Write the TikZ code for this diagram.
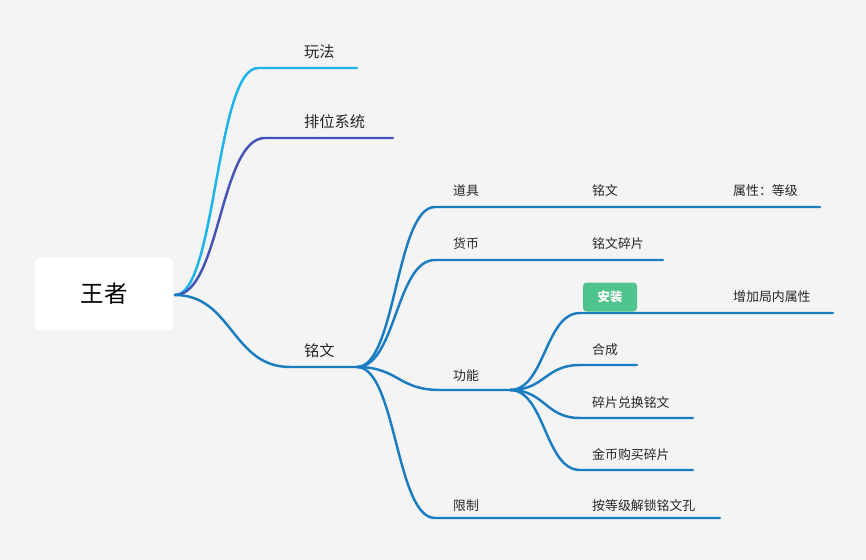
\documentclass[tikz,border=0pt]{standalone}
\usepackage{fontspec}
\setmainfont{Noto Sans CJK SC}
\begin{document}
\begin{tikzpicture}[x=0.03cm,y=-0.03cm,
  br/.style={line width=2.1pt,line cap=round},
  lab/.style={font=\fontsize{11}{12}\selectfont,text=black!85,inner sep=0pt,anchor=west},
  lab1/.style={font=\fontsize{13}{14}\selectfont,text=black!85,inner sep=0pt,anchor=west}]
\definecolor{bg}{HTML}{F4F4F4}
\definecolor{cy}{HTML}{1BB4EA}
\definecolor{ind}{HTML}{4353B8}
\definecolor{bl}{HTML}{1B7DC1}
\definecolor{gr}{HTML}{4FC48C}
\fill[bg] (0,0) rectangle (866,560);
\useasboundingbox (0,0) rectangle (866,560);
\node[fill=white,rounded corners=4pt,minimum width=138*0.03cm,minimum height=73*0.03cm,font=\fontsize{20}{24}\selectfont] (root) at (104,294) {王者};
\coordinate (r) at (175,295);
% level 1
\coordinate (a0) at (258,68); \coordinate (a1) at (357,68);
\coordinate (b0) at (265,138); \coordinate (b1) at (393,138);
\coordinate (c0) at (290,367); \coordinate (c1) at (357,367);
\draw[br,cy] (r) .. controls (216,295) and (216,68) .. (a0) -- (a1);
\draw[br,ind] (r) .. controls (220,295) and (220,138) .. (b0) -- (b1);
\draw[br,bl] (r) .. controls (232,295) and (232,367) .. (c0) -- (c1);
\node[lab1] (t1) at (304,52) {玩法};
\node[lab1] (t2) at (304,122) {排位系统};
\node[lab1] (t3) at (304,351) {铭文};
% level 2
\coordinate (d0) at (435,207); \coordinate (d1) at (820,207);
\coordinate (e0) at (435,260); \coordinate (e1) at (663,260);
\coordinate (f0) at (440,390); \coordinate (f1) at (510,390);
\coordinate (g0) at (435,518); \coordinate (g1) at (720,518);
\draw[br,bl] (c1) .. controls (396,367) and (396,207) .. (d0) -- (d1);
\draw[br,bl] (c1) .. controls (396,367) and (396,260) .. (e0) -- (e1);
\draw[br,bl] (c1) .. controls (398,367) and (398,390) .. (f0) -- (f1);
\draw[br,bl] (c1) .. controls (396,367) and (396,518) .. (g0) -- (g1);
\node[lab] (u1) at (453,191) {道具};
\node[lab] (u2) at (592,191) {铭文};
\node[lab] (u3) at (733,191) {属性：等级};
\node[lab] (u4) at (453,244) {货币};
\node[lab] (u5) at (592,244) {铭文碎片};
\node[lab] (u6) at (453,376) {功能};
\node[lab] (u7) at (453,506) {限制};
\node[lab] (u8) at (592,506) {按等级解锁铭文孔};
% level 3
\coordinate (h0) at (580,313); \coordinate (h1) at (833,313);
\coordinate (i0) at (580,365); \coordinate (i1) at (637,365);
\coordinate (j0) at (580,418); \coordinate (j1) at (693,418);
\coordinate (k0) at (580,470); \coordinate (k1) at (693,470);
\draw[br,bl] (f1) .. controls (545,390) and (545,313) .. (h0) -- (h1);
\draw[br,bl] (f1) .. controls (545,390) and (545,365) .. (i0) -- (i1);
\draw[br,bl] (f1) .. controls (545,390) and (545,418) .. (j0) -- (j1);
\draw[br,bl] (f1) .. controls (545,390) and (545,470) .. (k0) -- (k1);
\node[fill=gr,rounded corners=3pt,minimum width=54*0.03cm,minimum height=29*0.03cm,text=white,font=\fontsize{10.5}{12}\selectfont\bfseries] (v1) at (610,297) {安装};
\node[lab] (v2) at (733,297) {增加局内属性};
\node[lab] (v3) at (592,350) {合成};
\node[lab] (v4) at (592,403) {碎片兑换铭文};
\node[lab] (v5) at (592,455) {金币购买碎片};
\end{tikzpicture}
\end{document}
